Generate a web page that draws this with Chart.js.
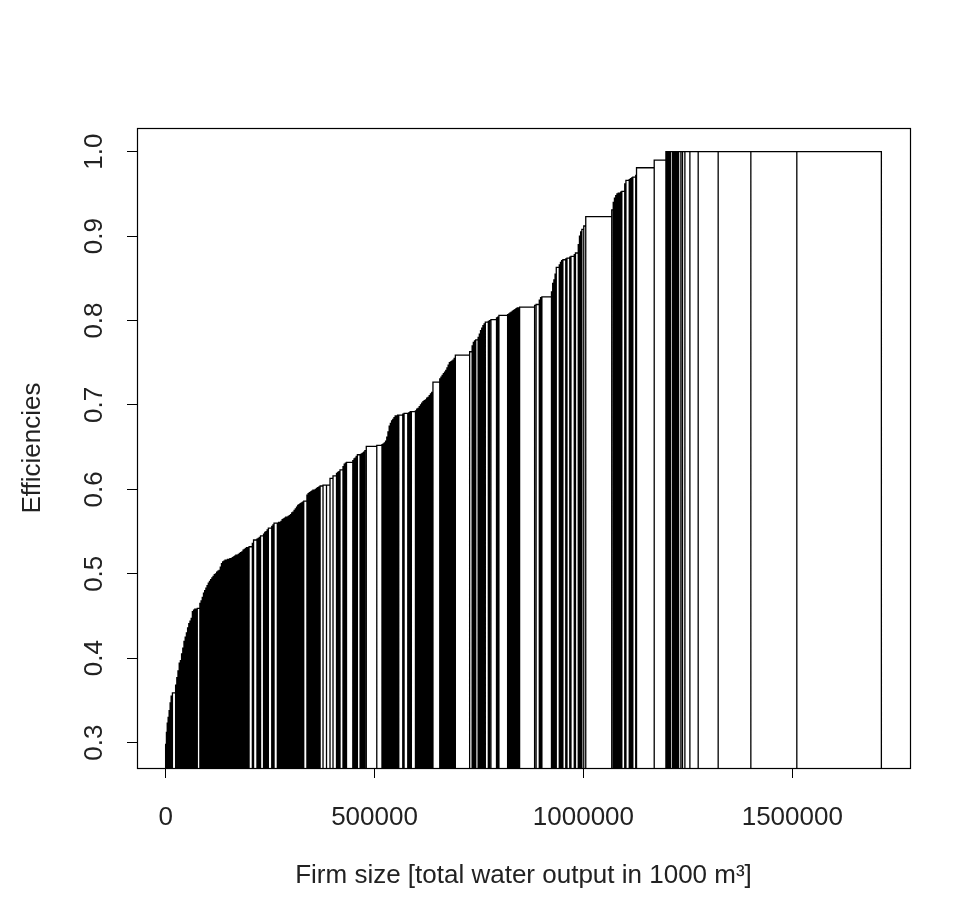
<!DOCTYPE html>
<html>
<head>
<meta charset="utf-8">
<title>Efficiencies by firm size</title>
<script src="https://cdn.jsdelivr.net/npm/chart.js@4.4.1/dist/chart.umd.min.js"></script>
<style>
  html, body { margin: 0; padding: 0; background: #fff; }
  #wrap { position: relative; width: 965px; height: 917px; }
</style>
</head>
<body>
<div id="wrap"><canvas id="chart" width="965" height="917"></canvas></div>
<script>
// firm sizes (total water output in 1000 m3), firms sorted by efficiency
const firmSizes = [
  1910, 1920, 2150, 2390, 2400, 2380, 3110, 7650,
  2870, 2790, 2930, 2860, 2820, 2900, 2850, 2880, 2910, 2840, 2870, 2890, 2860, 2830, 2900, 2870, 2880, 3110,
  6220,
  2870, 2840, 2900, 2860, 2880, 2850, 2910, 2830, 2890, 2870,
  2860, 2900, 2840, 2880, 2870, 2890, 2850, 2860, 2900, 2870,
  2840, 2880, 2890, 2860, 2870, 2850, 2900, 2880, 2860, 2870,
  2890, 2840, 2880, 2870, 2860, 2900, 2850, 2870, 2880, 2860,
  2890,
  7890, 2870, 8130, 2870, 2870, 2870, 7180, 2870, 2870, 2870, 2870, 8130, 2870, 2630, 7890,
  2860, 2880, 2850, 2890, 2870, 2860, 2900, 2840, 2870, 2880, 2860, 2890, 2870, 2850, 2880, 2870, 2900, 2860, 2870, 2880, 2850, 2890,
  7650,
  2870, 2860, 2890, 2850, 2880, 2870, 2900, 2860, 2870, 2880, 2850,
  6940, 8370, 8370, 7180, 8370,
  2870, 2870, 2630, 7180, 2870, 2870, 2630, 15070, 2870, 2630, 2630, 2870, 6460, 2870, 2870, 2870, 2870, 3350, 25120, 12440,
  2870, 2860, 2880, 2870, 2850, 2890, 2870, 2860, 2880, 2870, 2900, 2850, 2870, 2880,
  9570, 3110, 8850, 2870, 2870, 2870, 9810,
  2990, 2980, 3000, 2990, 2970, 3010, 2990, 2980, 3000, 2990, 3010, 2970, 2990, 3000,
  16270,
  2870, 2860, 2880, 2870, 2890, 2860, 2870, 2880, 2850, 2870, 2890, 2860, 2870,
  34210, 5980, 2870, 2870, 2870, 5740,
  2870, 2870, 2870, 2870, 2870, 2870,
  7180, 2870, 3350, 13400, 2870, 2870, 20810,
  2870, 2860, 2880, 2870, 2890, 2860, 2870, 2880, 2850, 2870,
  35880, 3590, 7650, 3110, 3110, 22960,
  2870, 2870, 2870, 2870, 7180, 2870, 2870, 2870,
  6940, 2870, 6700, 2870, 7890, 2870, 6700,
  2870, 2870, 2870, 4540, 4780, 62200,
  3590, 2870, 3110, 2870, 3110, 2870, 2870, 2870, 6940,
  2870, 7890, 2870, 2870, 2870, 6940, 1910, 42340, 27990,
  2630, 2870, 2870, 2870, 4780, 2870, 2870, 2870, 2870, 2870,
  5500, 3830, 5740, 11960, 19860, 47840, 78220, 110040, 202380
];

const efficiencies = [
  0.298, 0.312, 0.323, 0.330, 0.338, 0.347, 0.355, 0.359,
  0.368, 0.377, 0.385, 0.394, 0.397, 0.405, 0.412, 0.420, 0.425, 0.430, 0.436, 0.441, 0.444, 0.447, 0.455, 0.457, 0.458, 0.458,
  0.459,
  0.465, 0.468, 0.472, 0.477, 0.480, 0.483, 0.486, 0.489, 0.491, 0.493,
  0.495, 0.497, 0.499, 0.500, 0.502, 0.503, 0.504, 0.508, 0.512, 0.514,
  0.515, 0.516, 0.516, 0.517, 0.517, 0.518, 0.518, 0.519, 0.520, 0.521,
  0.522, 0.522, 0.523, 0.524, 0.525, 0.526, 0.528, 0.529, 0.530, 0.531,
  0.531,
  0.532, 0.536, 0.540, 0.541, 0.542, 0.543, 0.545, 0.547, 0.549, 0.550, 0.552, 0.554, 0.556, 0.558, 0.560,
  0.560, 0.561, 0.561, 0.562, 0.564, 0.565, 0.566, 0.567, 0.567, 0.568, 0.569, 0.570, 0.572, 0.573, 0.575, 0.577, 0.579, 0.581, 0.582, 0.583, 0.584, 0.585,
  0.586,
  0.593, 0.595, 0.596, 0.597, 0.598, 0.599, 0.599, 0.600, 0.601, 0.602, 0.603,
  0.604, 0.605, 0.605, 0.613, 0.616,
  0.619, 0.620, 0.621, 0.623, 0.627, 0.630, 0.631, 0.632, 0.634, 0.636, 0.637, 0.639, 0.641, 0.641, 0.642, 0.643, 0.644, 0.646, 0.651, 0.652,
  0.653, 0.654, 0.655, 0.657, 0.662, 0.668, 0.675, 0.678, 0.681, 0.683, 0.685, 0.687, 0.687, 0.688,
  0.688, 0.689, 0.690, 0.690, 0.691, 0.692, 0.692,
  0.693, 0.695, 0.696, 0.698, 0.700, 0.702, 0.704, 0.705, 0.706, 0.708, 0.709, 0.711, 0.713, 0.715,
  0.727,
  0.731, 0.733, 0.735, 0.737, 0.739, 0.741, 0.744, 0.747, 0.750, 0.751, 0.752, 0.753, 0.755,
  0.759, 0.763, 0.770, 0.774, 0.776, 0.777,
  0.780, 0.784, 0.788, 0.791, 0.794, 0.796,
  0.798, 0.799, 0.800, 0.801, 0.803, 0.804, 0.806,
  0.807, 0.808, 0.809, 0.810, 0.811, 0.812, 0.813, 0.814, 0.815, 0.815,
  0.816, 0.818, 0.819, 0.824, 0.827, 0.828,
  0.834, 0.844, 0.848, 0.855, 0.863, 0.866, 0.869, 0.871,
  0.872, 0.873, 0.874, 0.875, 0.876, 0.878, 0.880,
  0.890, 0.900, 0.905, 0.908, 0.912, 0.923,
  0.931, 0.940, 0.945, 0.948, 0.950, 0.951, 0.951, 0.952, 0.953,
  0.962, 0.966, 0.967, 0.968, 0.969, 0.970, 0.972, 0.981, 0.990,
  1, 1, 1, 1, 1, 1, 1, 1, 1, 1,
  1, 1, 1, 1, 1, 1, 1, 1, 1
];

const xTicks = [0, 500000, 1000000, 1500000];
const yTicks = [0.3, 0.4, 0.5, 0.6, 0.7, 0.8, 0.9, 1.0];
const xTitle = 'Firm size [total water output in 1000 m³]';
const yTitle = 'Efficiencies';

const FONT = '"Liberation Sans", Arial, sans-serif';
const FONT_SIZE = 26;
const TEXT = '#222';

// R style axis limits: data range stretched by 4% on each side
const totalSize = firmSizes.reduce((a, b) => a + b, 0);
const xMin = -0.04 * totalSize, xMax = totalSize * 1.04;
const effMin = Math.min(...efficiencies), effMax = Math.max(...efficiencies);
const yMin = effMin - 0.04 * (effMax - effMin), yMax = effMax + 0.04 * (effMax - effMin);

// outline of every firm rectangle, left to right
const outline = [];
let left = 0;
firmSizes.forEach((size, i) => {
  const right = left + size;
  const e = efficiencies[i];
  outline.push({ x: left, y: yMin }, { x: left, y: e }, { x: right, y: e }, { x: right, y: yMin });
  left = right;
});

const plotBox = {
  id: 'plotBox',
  afterDatasetsDraw(chart) {
    const { ctx, chartArea: a } = chart;
    ctx.save();
    ctx.strokeStyle = '#000';
    ctx.lineWidth = 1.2;
    ctx.strokeRect(a.left + 0.5, a.top + 0.5, a.right - a.left, a.bottom - a.top);
    ctx.restore();
  }
};

// y tick labels drawn parallel to the axis, as R does by default
const yTickLabels = {
  id: 'yTickLabels',
  afterDraw(chart) {
    const { ctx, chartArea } = chart;
    const s = chart.scales.y;
    ctx.save();
    ctx.font = FONT_SIZE + 'px ' + FONT;
    ctx.fillStyle = TEXT;
    ctx.textAlign = 'center';
    ctx.textBaseline = 'middle';
    s.ticks.forEach(t => {
      ctx.save();
      ctx.translate(chartArea.left - 42, s.getPixelForValue(t.value));
      ctx.rotate(-Math.PI / 2);
      ctx.fillText(t.value.toFixed(1), 0, 0);
      ctx.restore();
    });
    ctx.restore();
  }
};

new Chart(document.getElementById('chart'), {
  type: 'scatter',
  data: {
    datasets: [{
      data: outline,
      showLine: true,
      borderColor: '#000',
      borderWidth: 1.3,
      pointRadius: 0,
      tension: 0
    }]
  },
  options: {
    responsive: false,
    animation: false,
    layout: { padding: { top: 128, right: 55, left: 0, bottom: 0 } },
    plugins: { legend: { display: false }, tooltip: { enabled: false } },
    scales: {
      x: {
        type: 'linear',
        min: xMin,
        max: xMax,
        afterFit: s => { s.height = 149; },
        afterBuildTicks: s => { s.ticks = xTicks.map(v => ({ value: v })); },
        border: { display: false },
        grid: { drawOnChartArea: false, drawTicks: true, tickLength: 10, color: '#000' },
        ticks: {
          color: TEXT,
          font: { family: FONT, size: FONT_SIZE },
          padding: 24,
          maxRotation: 0,
          autoSkip: false,
          callback: v => String(v)
        },
        title: { display: true, text: xTitle, color: TEXT, font: { family: FONT, size: FONT_SIZE }, padding: { top: 0, bottom: 26 } }
      },
      y: {
        type: 'linear',
        min: yMin,
        max: yMax,
        afterFit: s => { s.width = 137; },
        afterBuildTicks: s => { s.ticks = yTicks.map(v => ({ value: v })); },
        border: { display: false },
        grid: { drawOnChartArea: false, drawTicks: true, tickLength: 10, color: '#000' },
        ticks: { display: false },
        title: { display: true, text: yTitle, color: TEXT, font: { family: FONT, size: FONT_SIZE }, padding: { top: 17, bottom: 0 } }
      }
    }
  },
  plugins: [plotBox, yTickLabels]
});
</script>
</body>
</html>
